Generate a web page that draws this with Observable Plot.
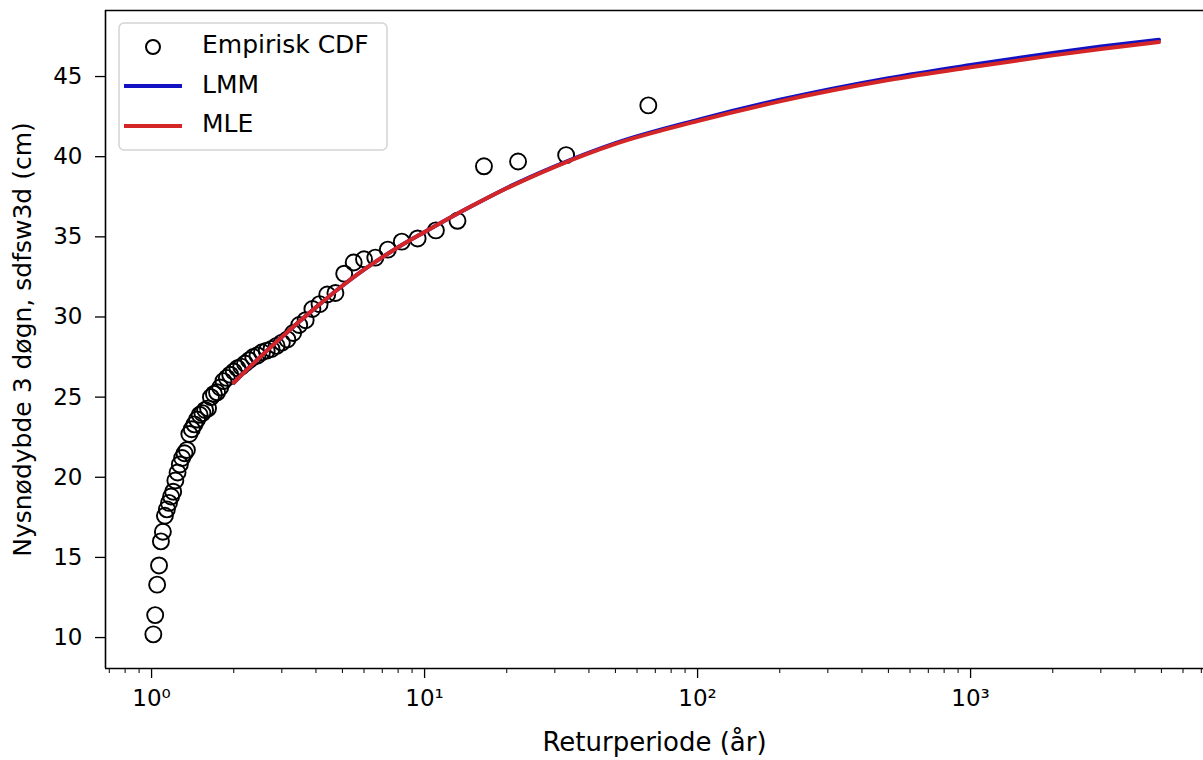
<!DOCTYPE html>
<html>
<head>
<meta charset="utf-8">
<script src="https://cdn.jsdelivr.net/npm/d3@7"></script>
<script src="https://cdn.jsdelivr.net/npm/@observablehq/plot@0.6"></script>
<style>
  html, body { margin: 0; padding: 0; background: white; }
  #chart { position: relative; width: 1203px; height: 760px; }
</style>
</head>
<body>
<div id="chart"></div>
<script>
// ---- data ----
const empiricalT = [
  1.015, 1.031, 1.048, 1.065, 1.082, 1.100, 1.119, 1.138, 1.158, 1.179,
  1.200, 1.222, 1.245, 1.269, 1.294, 1.320, 1.347, 1.375, 1.404, 1.435,
  1.467, 1.500, 1.535, 1.571, 1.610, 1.650, 1.692, 1.737, 1.784, 1.833,
  1.886, 1.941, 2.000, 2.063, 2.129, 2.200, 2.276, 2.357, 2.444, 2.538,
  2.640, 2.750, 2.870, 3.000, 3.143, 3.300, 3.474, 3.667, 3.882, 4.125,
  4.400, 4.714, 5.077, 5.500, 6.000, 6.600, 7.333, 8.250, 9.429, 11.00,
  13.20, 16.50, 22.00, 33.00, 66.00
];
const empiricalValue = [
  10.2, 11.4, 13.3, 14.5, 16.0, 16.6, 17.6, 18.0, 18.4, 18.8,
  19.1, 19.8, 20.3, 20.8, 21.2, 21.5, 21.7, 22.7, 23.0, 23.3,
  23.6, 23.9, 24.0, 24.2, 24.3, 25.0, 25.2, 25.3, 25.6, 26.0,
  26.2, 26.4, 26.6, 26.8, 26.9, 27.1, 27.3, 27.5, 27.6, 27.8,
  27.9, 28.0, 28.2, 28.4, 28.6, 29.0, 29.5, 29.8, 30.5, 30.8,
  31.4, 31.5, 32.7, 33.4, 33.6, 33.7, 34.2, 34.7, 34.9, 35.4,
  36.0, 39.4, 39.7, 40.1, 43.2
];
const curveT = [2, 2.5, 3, 4, 5, 6, 8, 10, 15, 20, 30, 50, 100, 200, 500, 1000, 2000, 3000, 4900];
const lmmValue = [25.9, 27.5, 28.75, 30.6, 31.95, 32.95, 34.35, 35.3, 36.95, 38.05, 39.4, 40.85, 42.3, 43.55, 44.9, 45.72, 46.47, 46.87, 47.3];
const mleValue = [25.9, 27.5, 28.75, 30.6, 31.95, 32.95, 34.35, 35.3, 36.95, 38.03, 39.37, 40.8, 42.22, 43.45, 44.78, 45.58, 46.32, 46.72, 47.15];

const yTicks = [10, 15, 20, 25, 30, 35, 40, 45];
const xMajorTicks = [1, 10, 100, 1000];
const xTickLabels = ["10⁰", "10¹", "10²", "10³"];
const xMinorTicks = [0.7, 0.8, 0.9,
  2, 3, 4, 5, 6, 7, 8, 9,
  20, 30, 40, 50, 60, 70, 80, 90,
  200, 300, 400, 500, 600, 700, 800, 900,
  2000, 3000, 4000, 5000, 6000, 7000];
const xDomain = [0.678, 7131];
const yDomain = [8.07, 49.12];

const xLabel = "Returperiode (år)";
const yLabel = "Nysnødybde 3 døgn, sdfsw3d (cm)";
const legendLabels = ["Empirisk CDF", "LMM", "MLE"];
const colorLMM = "#1212c2";
const colorMLE = "#d42626";

// ---- tables ----
const empData = empiricalT.map((t, i) => ({T: t, v: empiricalValue[i]}));
const lmmData = curveT.map((t, i) => ({T: t, v: lmmValue[i]}));
const mleData = curveT.map((t, i) => ({T: t, v: mleValue[i]}));

const font = "DejaVu Sans";

const chart = Plot.plot({
  width: 1203,
  height: 760,
  marginLeft: 105,
  marginRight: 0,
  marginTop: 10,
  marginBottom: 92,
  style: {fontFamily: font, background: "white", color: "black"},
  x: {type: "log", domain: xDomain},
  y: {domain: yDomain},
  marks: [
    Plot.axisY({ticks: yTicks, tickSize: 10, tickPadding: 13, fontSize: 23, label: null, strokeWidth: 1.3, tickFormat: d => String(d)}),
    Plot.axisX({ticks: xMajorTicks, tickSize: 10, tickPadding: 11, fontSize: 23, label: null, strokeWidth: 1.3,
                tickFormat: d => xTickLabels[xMajorTicks.indexOf(d)]}),
    Plot.axisX({ticks: xMinorTicks, tickSize: 5, label: null, strokeWidth: 1, tickFormat: () => ""}),
    Plot.ruleY([yDomain[0], yDomain[1]], {stroke: "black", strokeWidth: 1.6}),
    Plot.ruleX([xDomain[0]], {stroke: "black", strokeWidth: 1.6}),
    Plot.dot(empData, {x: "T", y: "v", r: 8, stroke: "black", strokeWidth: 1.9, fill: "none"}),
    Plot.line(lmmData, {x: "T", y: "v", stroke: colorLMM, strokeWidth: 4, curve: "monotone-x"}),
    Plot.line(mleData, {x: "T", y: "v", stroke: colorMLE, strokeWidth: 4, curve: "monotone-x"}),
    Plot.text([xLabel], {frameAnchor: "bottom", dy: 82, fontSize: 26, fill: "black"}),
    Plot.text([yLabel], {frameAnchor: "left", textAnchor: "middle", rotate: -90, dx: -83, fontSize: 25, fill: "black"})
  ]
});

document.getElementById("chart").appendChild(chart);

// ---- legend (inside the axes, upper left) ----
const svg = d3.select(chart);
const lg = svg.append("g").attr("font-family", font).attr("font-size", 25)
  .attr("fill", "black").attr("text-anchor", "start");
lg.append("rect")
  .attr("x", 119).attr("y", 23).attr("width", 268).attr("height", 127).attr("rx", 5)
  .attr("fill", "white").attr("fill-opacity", 0.8)
  .attr("stroke", "#d4d4d4").attr("stroke-width", 1.5);
lg.append("circle").attr("cx", 153).attr("cy", 47).attr("r", 7)
  .attr("fill", "none").attr("stroke", "black").attr("stroke-width", 2);
lg.append("line").attr("x1", 124).attr("x2", 182).attr("y1", 86).attr("y2", 86)
  .attr("stroke", colorLMM).attr("stroke-width", 4);
lg.append("line").attr("x1", 124).attr("x2", 182).attr("y1", 126).attr("y2", 126)
  .attr("stroke", colorMLE).attr("stroke-width", 4);
const baselines = [53, 93, 132];
legendLabels.forEach((s, i) => {
  lg.append("text").attr("x", 202).attr("y", baselines[i]).attr("text-anchor", "start").text(s);
});
</script>
</body>
</html>
